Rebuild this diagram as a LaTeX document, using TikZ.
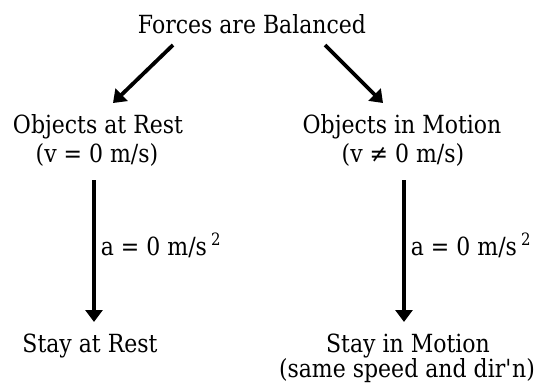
\documentclass[tikz,border=0pt]{standalone}
\usepackage{fontspec}
\setmainfont[FakeStretch=0.88]{DejaVu Serif}
\usetikzlibrary{arrows.meta, positioning, calc}
\newcommand{\sqr}{\,\raisebox{0.8ex}{\fontsize{17}{17}\selectfont 2}}

\begin{document}
\begin{tikzpicture}[x=1pt, y=-1pt,
    every node/.style={font=\fontsize{25}{29}\selectfont, inner sep=1pt},
    lbl/.style={anchor=base},
    arr/.style={-{Triangle[length=12pt, width=17pt]}, line width=3.8pt}]
  \useasboundingbox (0,0) rectangle (539,391);
  % top of the tree
  \node[lbl] (top) at (252,33) {Forces are Balanced};
  \node[lbl] (rest) at (98,133) {Objects at Rest};
  \node[lbl] (motion) at (402,133) {Objects in Motion};
  \node[lbl] (restv) at (97,162) {(v = 0 m/s)};
  \node[lbl] (motionv) at (403,162) {(v ≠ 0 m/s)};
  % bottom row
  \node[lbl] (stayrest) at (90,352) {Stay at Rest};
  \node[lbl] (staymotion) at (408,352) {Stay in Motion};
  \node[lbl] (staynote) at (407,377) {(same speed and dir\textquotesingle n)};
  \draw[arr] ([xshift=-79pt, yshift=-12pt]top.base) -- ([xshift=15pt, yshift=30pt]rest.base);
  \draw[arr] ([xshift=73pt, yshift=-12pt]top.base) -- ([xshift=-19pt, yshift=30pt]motion.base);
  \draw[arr] ([xshift=-3pt, yshift=-18pt]restv.base) -- ([xshift=4pt, yshift=30pt]stayrest.base)
       node[pos=0.46, right=4pt] {a = 0 m/s\sqr};
  \draw[arr] ([xshift=1pt, yshift=-18pt]motionv.base) -- ([xshift=-4pt, yshift=30pt]staymotion.base)
       node[pos=0.46, right=4pt] {a = 0 m/s\sqr};
\end{tikzpicture}
\end{document}
